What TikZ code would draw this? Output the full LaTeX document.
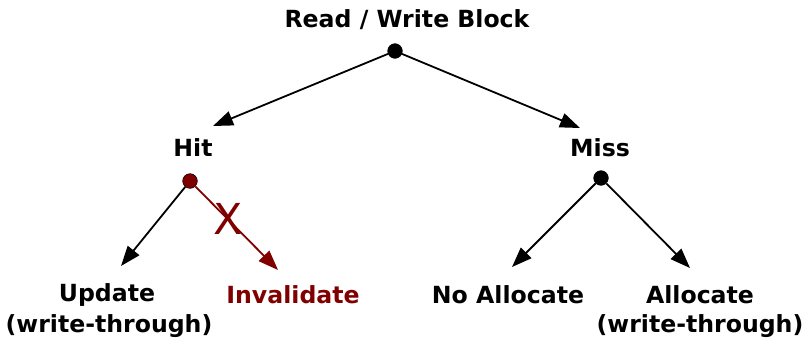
\documentclass[tikz,border=0pt]{standalone}
\usepackage{fontspec}
\setmainfont{DejaVu Sans}
\usetikzlibrary{arrows.meta}
\definecolor{dred}{RGB}{128,0,0}
\tikzset{
  lbl/.style={font=\bfseries\fontsize{17.7}{21}\selectfont, inner sep=0pt, align=center},
  dot/.style={circle, fill=black, draw=black, minimum size=11pt, inner sep=0pt},
  arr/.style={line width=1.35pt, -{Triangle[length=15pt,width=11pt]}},
}
\begin{document}
\begin{tikzpicture}[x=0.75pt,y=-0.75pt]
\useasboundingbox (0,0) rectangle (805,343);
\node[lbl] (title) at (407,20) {Read / Write Block};
\node[dot] (root) at (395,51) {};
\node[lbl] (hit) at (193,148) {Hit};
\node[lbl] (miss) at (600,148) {Miss};
\node[dot, fill=dred] (hdot) at (190,181) {};
\node[dot] (mdot) at (601,178) {};
\node[lbl] (upd) at (107,295) {Update};
\node[lbl] (updw) at (109,326) {(write-through)};
\node[lbl, text=dred] (inv) at (293,295) {Invalidate};
\node[lbl] (noal) at (508,295) {No Allocate};
\node[lbl] (al) at (700,295) {Allocate};
\node[lbl] (alw) at (700,326) {(write-through)};
\node[text=dred, font=\fontsize{32}{32}\selectfont, inner sep=0pt] (x) at (228,219) {X};
\coordinate (hitTip) at (213,126);
\coordinate (missTip) at (580,128);
\coordinate (updTip) at (121,266);
\coordinate (invTip) at (278,270);
\coordinate (noalTip) at (512,267);
\coordinate (alTip) at (690,268);
\draw[arr] (root) -- (hitTip);
\draw[arr] (root) -- (missTip);
\draw[arr] (hdot) -- (updTip);
\draw[arr, draw=dred, fill=dred] (hdot) -- (invTip);
\draw[arr] (mdot) -- (noalTip);
\draw[arr] (mdot) -- (alTip);
\end{tikzpicture}
\end{document}
